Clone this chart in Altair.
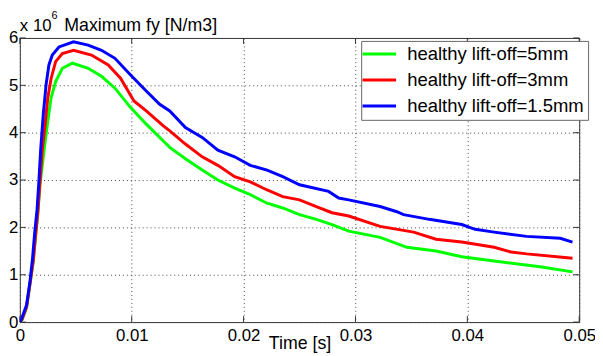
import altair as alt
import pandas as pd

# ---------------- data ----------------
series_names = ["healthy lift-off=5mm", "healthy lift-off=3mm", "healthy lift-off=1.5mm"]
series_colors = ["#00ff00", "#ff0000", "#0000ff"]

t_5mm = [0, 0.0002, 0.0006, 0.0009, 0.0012, 0.0014, 0.0016, 0.0018, 0.002, 0.0022,
         0.0025, 0.0028, 0.0032, 0.0038, 0.0047, 0.0061, 0.0073, 0.0085, 0.0099, 0.0113,
         0.0128, 0.0134, 0.0148, 0.0163, 0.0177, 0.0192, 0.0206, 0.0221, 0.0235, 0.025,
         0.0265, 0.0279, 0.0294, 0.0322, 0.0346, 0.0372, 0.0395, 0.0424, 0.0465, 0.0494]
fy_5mm = [0, 0.05, 0.3, 0.78, 1.28, 1.78, 2.26, 2.9, 3.3, 3.69,
          4.25, 4.74, 5.08, 5.36, 5.47, 5.36, 5.19, 4.94, 4.53, 4.18,
          3.83, 3.69, 3.45, 3.21, 3.0, 2.83, 2.69, 2.51, 2.41, 2.27,
          2.17, 2.06, 1.92, 1.79, 1.58, 1.5, 1.38, 1.29, 1.17, 1.06]

t_3mm = [0, 0.0002, 0.0006, 0.0009, 0.0012, 0.0014, 0.0016, 0.0018, 0.002, 0.0022,
         0.0025, 0.0028, 0.0032, 0.0038, 0.0048, 0.0064, 0.0079, 0.009, 0.0102, 0.0113,
         0.0128, 0.0134, 0.0148, 0.0163, 0.0177, 0.0192, 0.0206, 0.0221, 0.0235, 0.025,
         0.0265, 0.0279, 0.0294, 0.0322, 0.0352, 0.0372, 0.0395, 0.0424, 0.0439, 0.0453,
         0.0494]
fy_3mm = [0, 0.06, 0.32, 0.8, 1.3, 1.82, 2.3, 2.95, 3.63, 4.04,
          4.74, 5.15, 5.5, 5.67, 5.74, 5.64, 5.43, 5.15, 4.67, 4.46,
          4.15, 4.04, 3.76, 3.49, 3.31, 3.07, 2.96, 2.79, 2.65, 2.58,
          2.44, 2.31, 2.24, 2.02, 1.9, 1.75, 1.69, 1.58, 1.48, 1.44,
          1.35]

t_15mm = [0, 0.00017, 0.0006, 0.0009, 0.00113, 0.00133, 0.00154, 0.00171, 0.00186, 0.0021,
          0.00235, 0.0026, 0.0029, 0.0035, 0.0048, 0.0061, 0.0073, 0.0085, 0.0099, 0.0113,
          0.0125, 0.0134, 0.0148, 0.0163, 0.0177, 0.0192, 0.0206, 0.0221, 0.0235, 0.025,
          0.0276, 0.0285, 0.0294, 0.0322, 0.0337, 0.0343, 0.0366, 0.0395, 0.0407, 0.0424,
          0.0453, 0.0483, 0.0494]
fy_15mm = [0, 0.08, 0.36, 0.85, 1.33, 1.89, 2.38, 3.0, 3.63, 4.4,
           5.02, 5.43, 5.64, 5.81, 5.92, 5.85, 5.74, 5.57, 5.22, 4.88,
           4.6, 4.46, 4.11, 3.9, 3.63, 3.49, 3.31, 3.21, 3.07, 2.9,
           2.76, 2.62, 2.58, 2.44, 2.33, 2.27, 2.17, 2.06, 1.96, 1.9,
           1.81, 1.77, 1.69]

x_ticks = [0, 0.01, 0.02, 0.03, 0.04, 0.05]
y_ticks = [0, 1, 2, 3, 4, 5, 6]

title_prefix = "x 10"
title_exponent = "6"
title_main = "Maximum fy [N/m3]"
x_title = "Time [s]"

# ---------------- build table ----------------
rows = []
for name, ts, vs in zip(series_names, [t_5mm, t_3mm, t_15mm], [fy_5mm, fy_3mm, fy_15mm]):
    for i, (t, v) in enumerate(zip(ts, vs)):
        rows.append({"series": name, "time": t, "fy": v, "idx": i})
df = pd.DataFrame(rows)

FONT = "Liberation Sans"
W, H = 567, 288
TICK = 6

x_scale = alt.Scale(domain=[0, 0.05], nice=False, zero=False)
y_scale = alt.Scale(domain=[0, 6], nice=False)

lines = alt.Chart(df).mark_line(strokeWidth=3, clip=True).encode(
    x=alt.X("time:Q", scale=x_scale,
            axis=alt.Axis(values=x_ticks, format=".2~f", title=x_title,
                          labelPadding=6, labelFlush=False, labelOverlap=False,
                          titleFontSize=18, titleFont=FONT, titleFontWeight="normal",
                          titleColor="black", titleBaseline="top", titleY=13)),
    y=alt.Y("fy:Q", scale=y_scale,
            axis=alt.Axis(values=y_ticks, format="d", title=None,
                          labelPadding=2, labelFlush=False, labelOverlap=False)),
    color=alt.Color("series:N",
                    scale=alt.Scale(domain=series_names, range=series_colors),
                    legend=alt.Legend(title=None, orient="none", legendX=346, legendY=3,
                                      symbolType="M-2.267,0L2.267,0", symbolSize=225,
                                      symbolStrokeWidth=3, symbolOffset=5,
                                      labelFontSize=18.7, labelLimit=400,
                                      labelFont=FONT, labelColor="black",
                                      strokeColor="#666666", fillColor="white",
                                      padding=4, rowPadding=6.3, labelOffset=19,
                                      cornerRadius=0)),
    order="idx:Q",
)

# inward tick marks on all four sides (MATLAB style box)
xt = pd.DataFrame({"xt": x_ticks})
yt = pd.DataFrame({"yt": y_ticks})
tick_color = "#333333"
ticks_bottom = alt.Chart(xt).mark_rule(color=tick_color, strokeWidth=1).encode(
    x=alt.X("xt:Q", scale=x_scale), y=alt.value(H), y2=alt.value(H - TICK))
ticks_top = alt.Chart(xt).mark_rule(color=tick_color, strokeWidth=1).encode(
    x=alt.X("xt:Q", scale=x_scale), y=alt.value(0), y2=alt.value(TICK))
ticks_left = alt.Chart(yt).mark_rule(color=tick_color, strokeWidth=1).encode(
    y=alt.Y("yt:Q", scale=y_scale), x=alt.value(0), x2=alt.value(TICK))
ticks_right = alt.Chart(yt).mark_rule(color=tick_color, strokeWidth=1).encode(
    y=alt.Y("yt:Q", scale=y_scale), x=alt.value(W), x2=alt.value(W - TICK))

title_df = pd.DataFrame({"a": [title_prefix], "b": [title_exponent], "c": [title_main]})
t1 = alt.Chart(title_df).mark_text(align="left", baseline="alphabetic", fontSize=17,
                                   font=FONT, color="black").encode(
    text="a:N", x=alt.value(0), y=alt.value(-7))
t2 = alt.Chart(title_df).mark_text(align="left", baseline="alphabetic", fontSize=11,
                                   font=FONT, color="black").encode(
    text="b:N", x=alt.value(32), y=alt.value(-19))
t3 = alt.Chart(title_df).mark_text(align="left", baseline="alphabetic", fontSize=18,
                                   font=FONT, color="black").encode(
    text="c:N", x=alt.value(45), y=alt.value(-7))

chart = alt.layer(ticks_bottom, ticks_top, ticks_left, ticks_right,
                  lines, t1, t2, t3).properties(
    width=W, height=H,
    autosize=alt.AutoSizeParams(type="none"),
    padding={"left": 12, "top": 28, "right": 16, "bottom": 32},
    background="white",
).configure_view(
    stroke="#333333", strokeWidth=1
).configure_axis(
    grid=True, gridDash=[1, 3], gridColor="#444444", gridOpacity=1, gridWidth=1,
    domain=False, ticks=False,
    labelFont=FONT, labelFontSize=17, labelColor="black",
)

chart.save("out.html", embed_options={"renderer": "svg", "actions": False})
